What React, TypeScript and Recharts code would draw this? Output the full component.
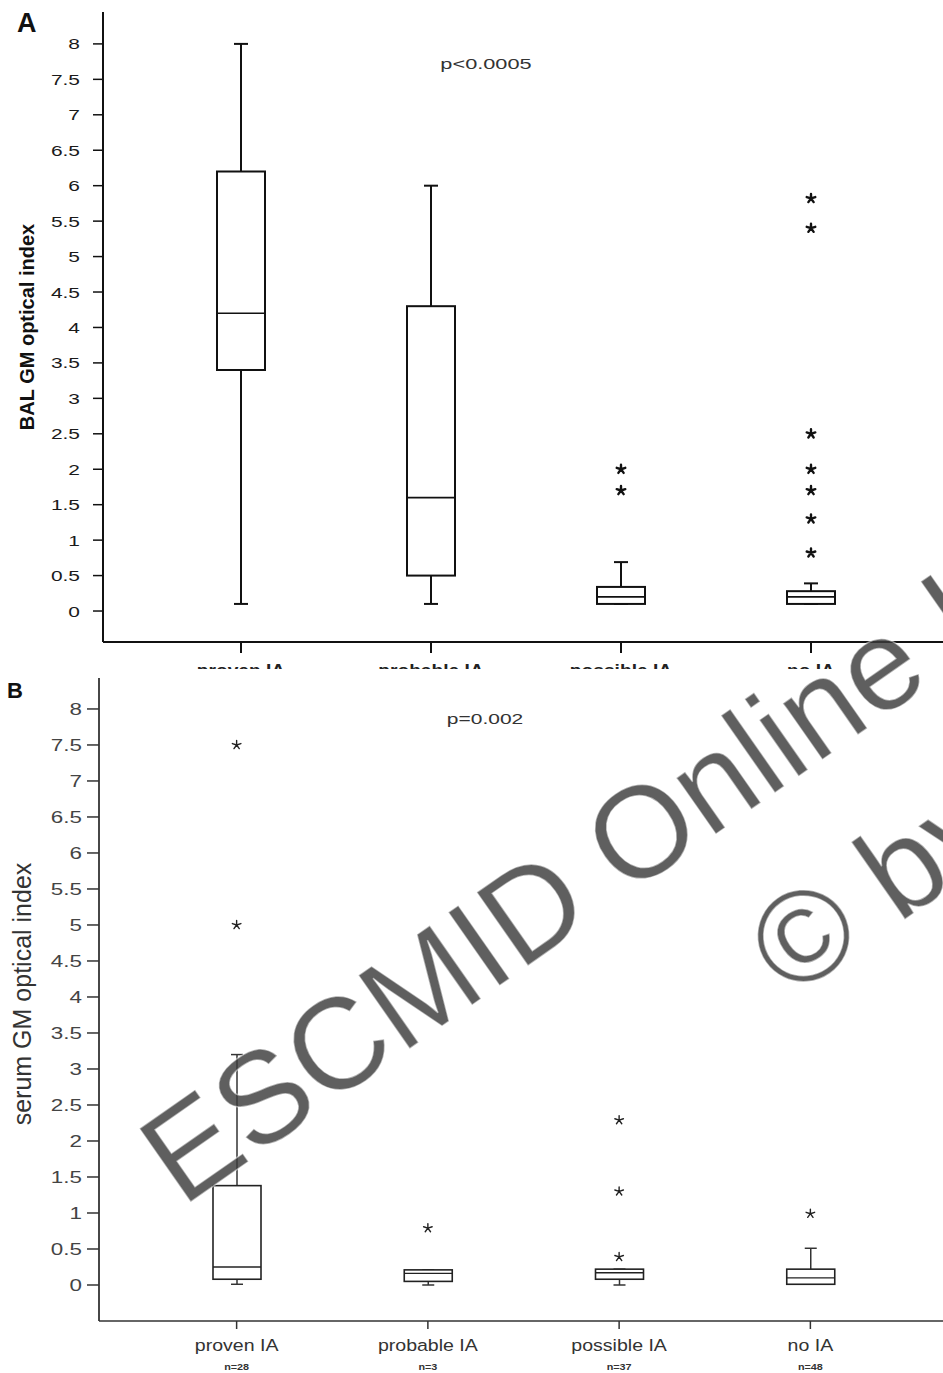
import React from 'react';
import { ComposedChart, Bar, Scatter, XAxis, YAxis } from 'recharts';

const categories = ['proven IA', 'probable IA', 'possible IA', 'no IA'];
const groupSizes = ['n=28', 'n=3', 'n=37', 'n=48'];
const yTicks = [0, 0.5, 1, 1.5, 2, 2.5, 3, 3.5, 4, 4.5, 5, 5.5, 6, 6.5, 7, 7.5, 8];

// panel A: BAL GM
const balMin = [0.1, 0.1, 0.1, 0.1];
const balQ1 = [3.4, 0.5, 0.1, 0.1];
const balMedian = [4.2, 1.6, 0.2, 0.2];
const balQ3 = [6.2, 4.3, 0.34, 0.28];
const balMax = [8, 6, 0.69, 0.39];
const balOutliers = [[], [], [2.0, 1.7], [5.82, 5.4, 2.5, 2.0, 1.7, 1.3, 0.82]];

// panel B: serum GM
const serumMin = [0.01, 0, 0, 0.01];
const serumQ1 = [0.08, 0.05, 0.08, 0.01];
const serumMedian = [0.25, 0.16, 0.17, 0.1];
const serumQ3 = [1.38, 0.21, 0.22, 0.22];
const serumMax = [3.2, 0.21, 0.22, 0.51];
const serumOutliers = [[7.5, 5.0], [0.79], [2.29, 1.3, 0.39], [0.99]];

const FONT = '"Liberation Sans", Arial, sans-serif';

const buildBoxes = (min: number[], q1: number[], med: number[], q3: number[], max: number[]) =>
  categories.map((cat, i) => ({
    cat,
    q1: q1[i],
    median: med[i],
    q3: q3[i],
    box: [q1[i], q3[i]],
    whisker: [min[i], max[i]],
  }));

const buildOutliers = (lists: number[][]) =>
  lists.flatMap((vals, i) => vals.map(value => ({ cat: categories[i], value })));

const balBoxes = buildBoxes(balMin, balQ1, balMedian, balQ3, balMax);
const balPoints = buildOutliers(balOutliers);
const serumBoxes = buildBoxes(serumMin, serumQ1, serumMedian, serumQ3, serumMax);
const serumPoints = buildOutliers(serumOutliers);

const makeBoxShape = (stroke: string, sw: number) => (props: any) => {
  const { x, y, width, height, payload } = props;
  const medY = y + (height * (payload.q3 - payload.median)) / (payload.q3 - payload.q1);
  return (
    <g>
      <rect x={x} y={y} width={width} height={height} fill="#fff" stroke={stroke} strokeWidth={sw} />
      <line x1={x} x2={x + width} y1={medY} y2={medY} stroke={stroke} strokeWidth={sw * 0.8} />
    </g>
  );
};

const makeWhiskerShape = (stroke: string, sw: number) => (props: any) => {
  const { x, y, width, height } = props;
  const cx = x + width / 2;
  return (
    <g stroke={stroke} strokeWidth={sw}>
      <line x1={cx} x2={cx} y1={y} y2={y + height} />
      <line x1={x} x2={x + width} y1={y} y2={y} />
      <line x1={x} x2={x + width} y1={y + height} y2={y + height} />
    </g>
  );
};

const makeStar = (stroke: string, sw: number, r: number) => (props: any) => {
  const { cx, cy } = props;
  const spokes = [0, 72, 144, 216, 288].map(a => {
    const rad = ((a - 90) * Math.PI) / 180;
    return `M${cx},${cy}L${cx + r * Math.cos(rad)},${cy + r * Math.sin(rad)}`;
  });
  return <path d={spokes.join('')} stroke={stroke} strokeWidth={sw} strokeLinecap="round" fill="none" />;
};

// the scanned figure has wide lettering, so labels are stretched sideways
const makeYTick = (fill: string, size: number, stretch: number) => (props: any) => {
  const { x, y, payload } = props;
  return (
    <text transform={`translate(${x},${y}) scale(${stretch},1)`} textAnchor="end" dy="0.36em"
      fontSize={size} fill={fill} fontFamily={FONT}>
      {payload.value}
    </text>
  );
};

const SerumTick = (props: any) => {
  const { x, y, payload } = props;
  const n = groupSizes[categories.indexOf(payload.value)];
  return (
    <g fontFamily={FONT} fill="#333">
      <text transform={`translate(${x},${y + 22}) scale(1.15,1)`} textAnchor="middle" fontSize={17}>{payload.value}</text>
      <text transform={`translate(${x},${y + 41}) scale(1.2,1)`} textAnchor="middle" fontSize={9} fontWeight="bold">{n}</text>
    </g>
  );
};

const BalTick = (props: any) => {
  const { x, y, payload } = props;
  return (
    <text transform={`translate(${x},${y}) scale(1.2,1)`} textAnchor="middle" dy="0.8em"
      fontSize={16} fontWeight="bold" fill="#222" fontFamily={FONT}>
      {payload.value}
    </text>
  );
};

const App = () => {
  return (
    <div style={{ position: 'absolute', left: 0, top: 0, width: 943, height: 1373, overflow: 'hidden', background: '#fff', fontFamily: FONT }}>
      {/* panel A */}
      <div style={{ position: 'absolute', left: 0, top: 0 }}>
        <ComposedChart width={952} height={700} data={balBoxes} margin={{ top: 12, right: 3, left: 0, bottom: 0 }}>
          <XAxis xAxisId="b" dataKey="cat" type="category" allowDuplicatedCategory={false}
            padding={{ left: 43, right: 43 }} height={58} tickSize={11} tickMargin={10}
            axisLine={{ stroke: '#111', strokeWidth: 2 }} tickLine={{ stroke: '#111', strokeWidth: 2 }}
            tick={<BalTick />} />
          <XAxis xAxisId="w" dataKey="cat" type="category" hide padding={{ left: 43, right: 43 }} />
          <XAxis xAxisId="top" dataKey="cat" orientation="top" height={0} tick={false} tickLine={false}
            axisLine={{ stroke: '#111', strokeWidth: 2 }} />
          <YAxis domain={[-0.437, 8.45]} ticks={yTicks} allowDataOverflow width={103} tickSize={10} tickMargin={13}
            interval={0} axisLine={{ stroke: '#111', strokeWidth: 2 }} tickLine={{ stroke: '#111', strokeWidth: 1.5 }}
            tick={makeYTick('#1a1a1a', 15.5, 1.35)} />
          <Bar xAxisId="w" dataKey="whisker" barSize={14} shape={makeWhiskerShape('#111', 2)} isAnimationActive={false} />
          <Bar xAxisId="b" dataKey="box" barSize={48} shape={makeBoxShape('#111', 2)} isAnimationActive={false} />
          <Scatter xAxisId="b" data={balPoints} dataKey="value" shape={makeStar('#111', 2.4, 4.5)} isAnimationActive={false} />
        </ComposedChart>
      </div>

      {/* panel B */}
      <div style={{ position: 'absolute', left: 0, top: 669, width: 943, height: 704, background: '#fff', overflow: 'hidden' }}>
        <ComposedChart width={952} height={704} data={serumBoxes} margin={{ top: 9, right: 4, left: 0, bottom: 0 }}>
          <XAxis xAxisId="b" dataKey="cat" type="category" allowDuplicatedCategory={false}
            padding={{ left: 42, right: 42 }} height={52} tickSize={8} tickMargin={0}
            axisLine={{ stroke: '#333', strokeWidth: 1.5 }} tickLine={{ stroke: '#333', strokeWidth: 1.5 }}
            tick={<SerumTick />} />
          <XAxis xAxisId="w" dataKey="cat" type="category" hide padding={{ left: 42, right: 42 }} />
          <XAxis xAxisId="top" dataKey="cat" orientation="top" height={0} tick={false} tickLine={false}
            axisLine={{ stroke: '#666', strokeWidth: 1.2 }} />
          <YAxis domain={[-0.5, 8.43]} ticks={yTicks} allowDataOverflow width={99} tickSize={12} tickMargin={5}
            interval={0} axisLine={{ stroke: '#333', strokeWidth: 1.8 }} tickLine={{ stroke: '#333', strokeWidth: 1.5 }}
            tick={makeYTick('#444', 16, 1.4)} />
          <Bar xAxisId="w" dataKey="whisker" barSize={12} shape={makeWhiskerShape('#333', 1.5)} isAnimationActive={false} />
          <Bar xAxisId="b" dataKey="box" barSize={48} shape={makeBoxShape('#222', 1.6)} isAnimationActive={false} />
          <Scatter xAxisId="b" data={serumPoints} dataKey="value" shape={makeStar('#222', 1.4, 4.5)} isAnimationActive={false} />
        </ComposedChart>
      </div>

      {/* titles and watermark */}
      <svg width={943} height={1373} style={{ position: 'absolute', left: 0, top: 0, pointerEvents: 'none' }} fontFamily={FONT}>
        <text x={17} y={32} fontSize={27} fontWeight="bold" fill="#111">A</text>
        <text x={7} y={698} fontSize={22} fontWeight="bold" fill="#111">B</text>
        <text transform="translate(486,69) scale(1.45,1)" fontSize={15} fill="#333" textAnchor="middle">p&lt;0.0005</text>
        <text transform="translate(485,724) scale(1.4,1)" fontSize={15} fill="#333" textAnchor="middle">p=0.002</text>
        <text transform="translate(34,327) rotate(-90)" fontSize={20} fontWeight="bold" fill="#111" textAnchor="middle">BAL GM optical index</text>
        <text transform="translate(31,994) rotate(-90)" fontSize={25} fill="#333" textAnchor="middle">serum GM optical index</text>
        <g fill="rgba(60,60,60,0.82)" fontSize={130} stroke="rgba(255,255,255,0.5)" strokeWidth={1.5}>
          <text transform="translate(182,1208) rotate(-35)">ESCMID Online Lecture Library</text>
          <text transform="translate(790,1000) rotate(-35)">© by author</text>
        </g>
      </svg>
    </div>
  );
};

export default App;
